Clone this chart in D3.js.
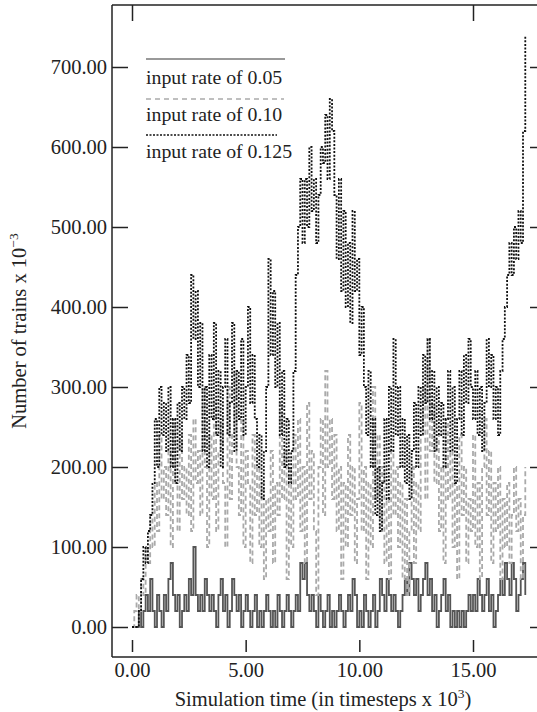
<!DOCTYPE html>
<html>
<head>
<meta charset="utf-8">
<script src="https://cdn.jsdelivr.net/npm/d3@7"></script>
<style>
  html, body { margin: 0; padding: 0; background: #fff; }
  svg { display: block; }
  text { font-family: "Liberation Serif", "Times New Roman", serif; fill: #222; }
</style>
</head>
<body>
<svg id="chart" width="537" height="712"></svg>
<script>
// ---- data (time in timesteps x 10^3, sampled every 0.1; values = trains x 10^-3) ----
const startTime = 0;
const timeStep = 0.1;

const seriesNames = ["input rate of 0.05", "input rate of 0.10", "input rate of 0.125"];

const rate005 = [
  0, 0, 0, 20, 0,   20, 40, 20, 60, 20,
  0, 40, 20, 0, 40,  20, 60, 80, 40, 20,
  40, 0, 20, 40, 20,  60, 40, 100, 40, 20,
  40, 20, 60, 40, 20,  40, 20, 0, 40, 60,
  20, 40, 0, 20, 60,  40, 20, 40, 0, 20,
  40, 20, 0, 20, 40,  0, 20, 0, 20, 40,
  20, 0, 20, 0, 40,  20, 0, 20, 40, 20,
  0, 20, 40, 20, 80,  60, 80, 40, 20, 40,
  20, 0, 40, 20, 0,  20, 40, 0, 20, 0,
  20, 40, 20, 0, 20,  40, 20, 60, 40, 0,
  20, 0, 40, 20, 0,  20, 40, 0, 20, 60,
  40, 20, 60, 40, 20,  40, 20, 0, 20, 40,
  60, 40, 80, 60, 40,  60, 20, 40, 60, 80,
  40, 60, 20, 40, 0,  20, 40, 60, 20, 40,
  0, 20, 0, 20, 0,  20, 0, 20, 40, 20,
  40, 20, 60, 40, 20,  40, 60, 20, 40, 0,
  20, 40, 60, 40, 80,  60, 40, 80, 60, 20,
  40, 60, 80, 40
];

const rate010 = [
  0, 20, 40, 20, 60,  40, 100, 80, 140, 100,
  180, 120, 240, 160, 200,  140, 220, 100, 260, 180,
  120, 240, 160, 200, 140,  240, 120, 260, 180, 220,
  140, 300, 200, 100, 240,  160, 280, 120, 220, 260,
  180, 100, 300, 160, 240,  320, 200, 140, 260, 100,
  220, 180, 80, 240, 140,  200, 100, 180, 60, 160,
  120, 220, 80, 180, 140,  280, 160, 220, 60, 200,
  100, 240, 160, 260, 120,  200, 80, 280, 160, 220,
  120, 40, 200, 260, 140,  320, 200, 260, 160, 240,
  120, 200, 60, 180, 100,  240, 140, 200, 80, 160,
  280, 120, 200, 60, 180,  100, 300, 160, 240, 120,
  200, 80, 160, 60, 220,  140, 200, 100, 180, 60,
  160, 40, 120, 200, 80,  180, 120, 240, 300, 160,
  360, 220, 280, 180, 240,  120, 200, 80, 260, 160,
  220, 100, 180, 60, 240,  140, 200, 80, 160, 120,
  240, 100, 180, 60, 200,  260, 140, 220, 80, 180,
  120, 200, 60, 160, 100,  180, 80, 140, 200, 120,
  160, 60, 140, 200
];

const rate0125 = [
  0, 0, 0, 20, 60,  100, 80, 120, 140, 180,
  260, 200, 300, 240, 280,  220, 300, 200, 260, 180,
  280, 220, 300, 260, 340,  280, 440, 360, 420, 300,
  380, 220, 300, 200, 340,  260, 380, 240, 320, 200,
  300, 360, 240, 280, 380,  220, 320, 260, 360, 240,
  300, 400, 280, 340, 260,  200, 240, 160, 220, 300,
  460, 340, 420, 300, 380,  240, 320, 200, 260, 180,
  220, 320, 440, 500, 560,  480, 560, 500, 600, 520,
  560, 480, 540, 600, 580,  640, 560, 660, 620, 540,
  460, 560, 420, 520, 400,  480, 380, 520, 420, 460,
  340, 400, 300, 240, 320,  200, 260, 140, 200, 120,
  180, 260, 160, 300, 220,  360, 240, 300, 200, 260,
  180, 240, 160, 220, 280,  200, 300, 240, 340, 280,
  360, 260, 320, 220, 300,  240, 280, 200, 260, 320,
  220, 300, 180, 260, 320,  240, 340, 280, 360, 300,
  260, 320, 240, 300, 220,  280, 360, 300, 340, 260,
  300, 240, 320, 360, 400,  440, 480, 440, 500, 460,
  520, 480, 620, 740
];

const xTicks = [0, 5, 10, 15];
const xTickLabels = ["0.00", "5.00", "10.00", "15.00"];
const yTicks = [0, 100, 200, 300, 400, 500, 600, 700];
const yTickLabels = ["0.00", "100.00", "200.00", "300.00", "400.00", "500.00", "600.00", "700.00"];

// ---- layout ----
const svg = d3.select("#chart");
const frame = { left: 112, right: 546, top: 5, bottom: 657 };
const x = d3.scaleLinear().domain([0, 15]).range([132, 473]);
const y = d3.scaleLinear().domain([0, 700]).range([627, 67]);
const FONT = 20.5;
const LEGEND_FONT = 19.8;

// frame
const fg = svg.append("g").attr("stroke", "#222").attr("stroke-width", 1.5).attr("fill", "none");
fg.append("line").attr("x1", frame.left).attr("x2", frame.left).attr("y1", frame.top).attr("y2", frame.bottom);
fg.append("line").attr("x1", frame.left).attr("x2", frame.right).attr("y1", frame.top).attr("y2", frame.top);
fg.append("line").attr("x1", frame.left).attr("x2", frame.right).attr("y1", frame.bottom).attr("y2", frame.bottom);

function styleAxis(g) {
  g.select(".domain").remove();
  g.selectAll(".tick line").attr("stroke", "#222").attr("stroke-width", 1.5);
  g.selectAll(".tick text").attr("font-family", "Liberation Serif, serif").attr("font-size", FONT).attr("fill", "#222");
}

// left axis with labels
svg.append("g").attr("transform", `translate(${frame.left},0)`)
  .call(d3.axisLeft(y).tickValues(yTicks).tickFormat((d, i) => yTickLabels[i]).tickSizeInner(-16).tickSizeOuter(0).tickPadding(5))
  .call(styleAxis);

// right axis (ticks only)
svg.append("g").attr("transform", `translate(${frame.right},0)`)
  .call(d3.axisRight(y).tickValues(yTicks).tickFormat("").tickSizeInner(-16).tickSizeOuter(0))
  .call(styleAxis);

// bottom axis: ticks float just above the frame
svg.append("g").attr("transform", `translate(0,652)`)
  .call(d3.axisBottom(x).tickValues(xTicks).tickFormat((d, i) => xTickLabels[i]).tickSizeInner(-12).tickSizeOuter(0).tickPadding(10))
  .call(styleAxis);

// top axis (ticks only)
svg.append("g").attr("transform", `translate(0,${frame.top})`)
  .call(d3.axisTop(x).tickValues([0, 15]).tickFormat("").tickSizeInner(-16).tickSizeOuter(0))
  .call(styleAxis);

// axis titles
const xt = svg.append("text").attr("x", 323).attr("y", 706).attr("text-anchor", "middle").attr("font-size", FONT);
xt.append("tspan").text("Simulation time (in timesteps x 10");
xt.append("tspan").attr("font-size", 13.5).attr("dy", -8).text("3");
xt.append("tspan").attr("dy", 8).text(")");

const yt = svg.append("text").attr("transform", "translate(26,331) rotate(-90)").attr("text-anchor", "middle").attr("font-size", FONT);
yt.append("tspan").text("Number of trains x 10");
yt.append("tspan").attr("font-size", 13.5).attr("dy", -8).text("\u22123");

// ---- series ----
const seriesData = [rate005, rate010, rate0125].map(vals => vals.map((v, i) => ({ t: startTime + i * timeStep, v })));
const styles = [
  { stroke: "#555", width: 1.8, dash: null },
  { stroke: "#aaa", width: 1.8, dash: "5,3" },
  { stroke: "#111", width: 1.8, dash: "2,1.6" }
];
const line = d3.line().x(d => x(d.t)).y(d => y(d.v)).curve(d3.curveStepAfter);

const plot = svg.append("g");
seriesData.forEach((data, i) => {
  plot.append("path").datum(data)
    .attr("d", line)
    .attr("fill", "none")
    .attr("stroke", styles[i].stroke)
    .attr("stroke-width", styles[i].width)
    .attr("stroke-dasharray", styles[i].dash);
});

// ---- legend ----
const legend = svg.append("g");
const legendRows = [
  { lineY: 59, textY: 84, x2: 285, stroke: "#777", dash: null },
  { lineY: 99, textY: 121, x2: 284, stroke: "#aaa", dash: "5,4" },
  { lineY: 135, textY: 158, x2: 277, stroke: "#111", dash: "2,1.5" }
];
legendRows.forEach((r, i) => {
  legend.append("line").attr("x1", 146).attr("x2", r.x2).attr("y1", r.lineY).attr("y2", r.lineY)
    .attr("stroke", r.stroke).attr("stroke-width", 1.3).attr("stroke-dasharray", r.dash);
  legend.append("text").attr("x", 146).attr("y", r.textY).attr("font-size", LEGEND_FONT).text(seriesNames[i]);
});
</script>
</body>
</html>
